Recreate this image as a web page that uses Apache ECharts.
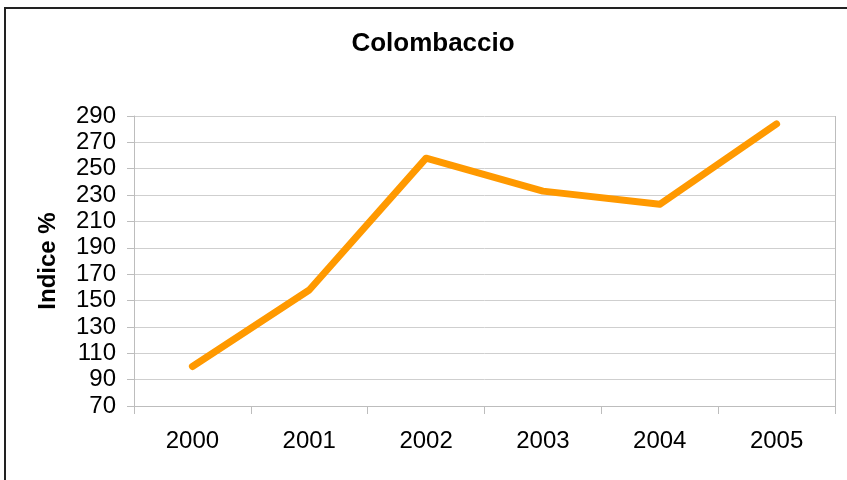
<!DOCTYPE html>
<html>
<head>
<meta charset="utf-8">
<script src="https://cdn.jsdelivr.net/npm/echarts@6/dist/echarts.min.js"></script>
<style>
html,body{margin:0;padding:0;background:#fff;}
#chart{width:847px;height:480px;}
</style>
</head>
<body>
<div id="chart"></div>
<script>
var categories = ['2000', '2001', '2002', '2003', '2004', '2005'];
var values = [100, 158, 258, 233, 223, 284];
var yMin = 70, yMax = 290, yStep = 20;
var titleText = 'Colombaccio';
var yAxisName = 'Indice %';

var chart = echarts.init(document.getElementById('chart'), null, {renderer: 'canvas'});
var font = '"Liberation Sans", Arial, sans-serif';
chart.setOption({
  animation: false,
  backgroundColor: '#ffffff',
  title: {
    text: titleText,
    left: 428, top: 26, textAlign: 'center',
    textStyle: {fontFamily: font, fontWeight: 'bold', fontSize: 26, color: '#000'}
  },
  grid: {left: 134, right: 12, top: 116, bottom: 74, containLabel: false},
  xAxis: {
    type: 'category',
    data: categories,
    boundaryGap: true,
    axisLine: {show: true, lineStyle: {color: '#bdbdbd', width: 1}},
    axisTick: {show: true, length: 8, inside: false, alignWithLabel: false, lineStyle: {color: '#bdbdbd'}},
    axisLabel: {fontFamily: font, fontSize: 24, color: '#000', margin: 23},
    splitLine: {show: false}
  },
  yAxis: {
    type: 'value',
    min: yMin, max: yMax, interval: yStep,
    name: yAxisName,
    nameLocation: 'middle',
    nameGap: 74,
    nameRotate: 90,
    nameTextStyle: {fontFamily: font, fontWeight: 'bold', fontSize: 24, color: '#000'},
    axisLine: {show: true, lineStyle: {color: '#bdbdbd', width: 1}},
    axisTick: {show: true, length: 7, inside: false, lineStyle: {color: '#bdbdbd'}},
    axisLabel: {fontFamily: font, fontSize: 24, color: '#000', margin: 18},
    splitLine: {show: true, lineStyle: {color: '#cfcfcf', width: 1}}
  },
  graphic: [
    {type: 'line', shape: {x1: 835.5, y1: 116, x2: 835.5, y2: 406}, style: {stroke: '#bdbdbd', lineWidth: 1}, silent: true},
    {type: 'polyline', shape: {points: [[5, 480], [5, 8], [847, 8]]}, style: {stroke: '#222', lineWidth: 2, fill: null}, silent: true}
  ],
  series: [{
    type: 'line',
    data: values,
    symbol: 'none',
    lineStyle: {color: '#ff9900', width: 7, cap: 'round', join: 'round'},
    itemStyle: {color: '#ff9900'}
  }]
});
</script>
</body>
</html>
